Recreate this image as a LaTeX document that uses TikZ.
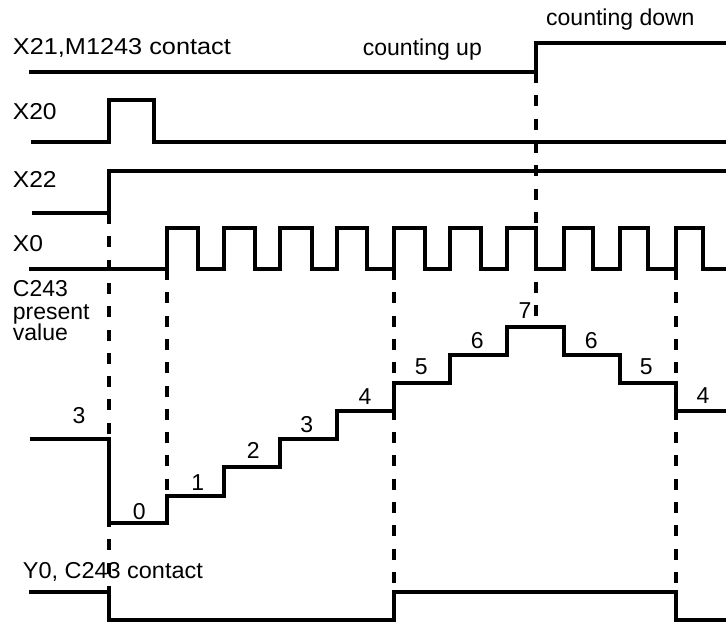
\documentclass[tikz,border=0pt]{standalone}
\usepackage{fontspec}
\usepackage{graphicx}
\setmainfont{Liberation Sans}
\begin{document}
\begin{tikzpicture}[x=1pt,y=-1pt,
  wave/.style={line width=3.2pt,line join=miter},
  guide/.style={line width=3.2pt,dash pattern=on 11pt off 12.3pt},
  lbl/.style={anchor=base west,inner sep=0pt,font=\fontsize{23}{22}\selectfont},
  val/.style={anchor=base,inner sep=0pt,font=\fontsize{23}{22}\selectfont}]
\useasboundingbox (0,0) rectangle (726,624);
% labels
\node[lbl] (lx21) at (12.7,54.3) {\scalebox{1.1}[1]{X21,M1243 contact}};
\node[lbl] (lup) at (362.7,55) {counting up};
\node[lbl] (ldown) at (546,25) {counting down};
\node[lbl] (lx20) at (12.7,119.3) {\scalebox{1.07}[1]{X20}};
\node[lbl] (lx22) at (12.7,187.7) {\scalebox{1.07}[1]{X22}};
\node[lbl] (lx0) at (12.7,251.7) {\scalebox{1.07}[1]{X0}};
\node[lbl] (lc1) at (12.7,296.7) {C243};
\node[lbl] (lc2) at (12.7,319) {present};
\node[lbl] (lc3) at (12.7,340.5) {value};
\node[lbl] (ly0) at (22.7,578.3) {\scalebox{1.02}[1]{Y0, C243 contact}};
% waveforms
\draw[wave] (29,72) -- (536,72) -- (536,43) -- (726,43);
\draw[wave] (31,142) -- (109,142) -- (109,100) -- (154,100) -- (154,142) -- (726,142);
\draw[wave] (32,213) -- (109,213) -- (109,171) -- (726,171);
\draw[wave] (29,269) -- (167,269)
  -- (167,228) -- (198,228) -- (198,269) -- (224,269)
  -- (224,228) -- (255,228) -- (255,269) -- (280,269)
  -- (280,228) -- (312,228) -- (312,269) -- (337,269)
  -- (337,228) -- (367,228) -- (367,269) -- (394,269)
  -- (394,228) -- (425,228) -- (425,269) -- (450,269)
  -- (450,228) -- (481,228) -- (481,269) -- (507,269)
  -- (507,228) -- (536,228) -- (536,269) -- (564,269)
  -- (564,228) -- (593,228) -- (593,269) -- (620,269)
  -- (620,228) -- (648,228) -- (648,269) -- (676,269)
  -- (676,228) -- (703,228) -- (703,269) -- (726,269);
\draw[wave] (30,439) -- (109,439) -- (109,523) -- (167,523) -- (167,496)
  -- (224,496) -- (224,467) -- (280,467) -- (280,439) -- (337,439) -- (337,411)
  -- (394,411) -- (394,383) -- (450,383) -- (450,355) -- (507,355) -- (507,327)
  -- (564,327) -- (564,355) -- (620,355) -- (620,383) -- (676,383) -- (676,411)
  -- (726,411);
\draw[wave] (29,592) -- (109,592) -- (109,620) -- (394,620) -- (394,592)
  -- (676,592) -- (676,620) -- (726,620);
% dashed guides
\coordinate (g1a) at (109,213); \coordinate (g1b) at (109,592);
\coordinate (g2a) at (167,269); \coordinate (g2b) at (167,496);
\coordinate (g3a) at (394,269); \coordinate (g3b) at (394,592);
\coordinate (g4a) at (536,72);  \coordinate (g4b) at (536,327);
\coordinate (g5a) at (676,269); \coordinate (g5b) at (676,592);
\draw[guide] (g1a) -- (g1b);
\draw[guide] (g2a) -- (g2b);
\draw[guide] (g3a) -- (g3b);
\draw[guide] (g4a) -- (g4b);
\draw[guide] (g5a) -- (g5b);
% counter values
\node[val] (v3a) at (79,423.7) {3};
\node[val] (v0) at (139.3,519.3) {0};
\node[val] (v1) at (197.7,490.3) {1};
\node[val] (v2) at (253.3,458.7) {2};
\node[val] (v3b) at (306.7,432.7) {3};
\node[val] (v4a) at (365,404.3) {4};
\node[val] (v5a) at (421.3,374.3) {5};
\node[val] (v6a) at (477.3,348) {6};
\node[val] (v7) at (525,318.3) {7};
\node[val] (v6b) at (591.3,348) {6};
\node[val] (v5b) at (646.3,374.3) {5};
\node[val] (v4b) at (703,403.7) {4};
\end{tikzpicture}
\end{document}
